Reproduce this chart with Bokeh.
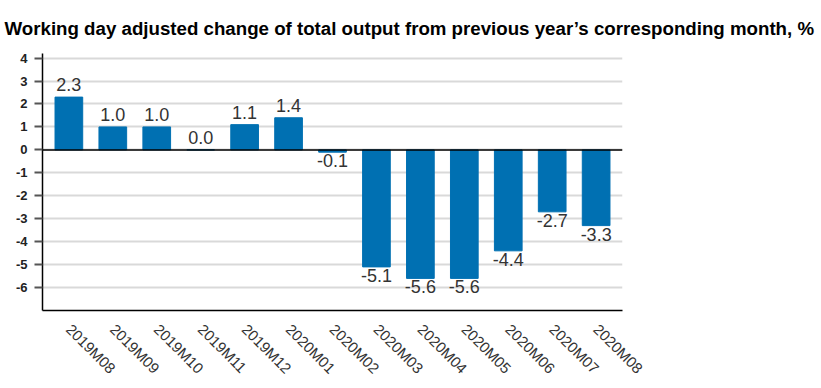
import math
from bokeh.plotting import figure
from bokeh.models import ColumnDataSource, FactorRange, Range1d, Span, FixedTicker
from bokeh.core.properties import value
from bokeh.embed import file_html
from bokeh.resources import INLINE

months = ["2019M08", "2019M09", "2019M10", "2019M11", "2019M12", "2020M01", "2020M02",
          "2020M03", "2020M04", "2020M05", "2020M06", "2020M07", "2020M08"]
change = [2.3, 1.0, 1.0, 0.0, 1.1, 1.4, -0.1, -5.1, -5.6, -5.6, -4.4, -2.7, -3.3]
y_ticks = [-6, -5, -4, -3, -2, -1, 0, 1, 2, 3, 4]
title_text = "Working day adjusted change of total output from previous year\u2019s corresponding month, %"

FONT = "Liberation Sans"
BLUE = "#0070b2"

src = ColumnDataSource(dict(
    x=months,
    top=change,
    label=[f"{v:.1f}" for v in change],
    base=["bottom" if v >= 0 else "top" for v in change],
    off=[-6 if v >= 0 else 2 for v in change],
))

p = figure(x_range=FactorRange(factors=months, range_padding=0.1, range_padding_units="absolute"),
           y_range=Range1d(-7, 4.2),
           width=821, height=388, output_backend="svg", toolbar_location=None,
           min_border_left=42, min_border_right=199, min_border_top=52, min_border_bottom=78)

p.title.text = title_text
p.title.text_font = FONT
p.title.text_font_size = "18.7px"
p.title.text_font_style = "bold"
p.title.text_color = "#000000"
p.title.align = "left"
p.title.offset = -38
p.title.standoff = 30

p.vbar(x="x", top="top", bottom=0, width=0.63, source=src, fill_color=BLUE, line_color=BLUE)

p.text(x="x", y="top", text="label", source=src, text_baseline="base", y_offset="off",
       text_align="center", text_font=value(FONT), text_font_size="18px", text_color="#333333")

p.add_layout(Span(location=0, dimension="width", line_color="#000000", line_width=1.5))

p.outline_line_color = None
p.xgrid.grid_line_color = None
p.ygrid.grid_line_color = "#d9d9d9"
p.ygrid.grid_line_width = 2
p.yaxis.ticker = FixedTicker(ticks=y_ticks)
p.yaxis.major_label_overrides = {t: str(t) for t in y_ticks}

p.yaxis.axis_line_color = "#000000"
p.yaxis.axis_line_width = 1.5
p.yaxis.major_tick_line_color = "#555555"
p.yaxis.major_tick_line_width = 2
p.yaxis.major_tick_out = 8
p.yaxis.major_tick_in = 0
p.yaxis.minor_tick_line_color = None
p.yaxis.major_label_text_font = FONT
p.yaxis.major_label_text_font_size = "13px"
p.yaxis.major_label_text_font_style = "bold"
p.yaxis.major_label_text_color = "#222222"
p.yaxis.major_label_standoff = 7

p.xaxis.axis_line_color = "#000000"
p.xaxis.axis_line_width = 1.5
p.xaxis.major_tick_line_color = None
p.xaxis.minor_tick_line_color = None
p.xaxis.major_label_orientation = -math.pi / 4
p.xaxis.major_label_text_font = FONT
p.xaxis.major_label_text_font_size = "15px"
p.xaxis.major_label_text_color = "#333333"
p.xaxis.major_label_standoff = 10

open("out.html", "w").write(file_html(p, INLINE))
